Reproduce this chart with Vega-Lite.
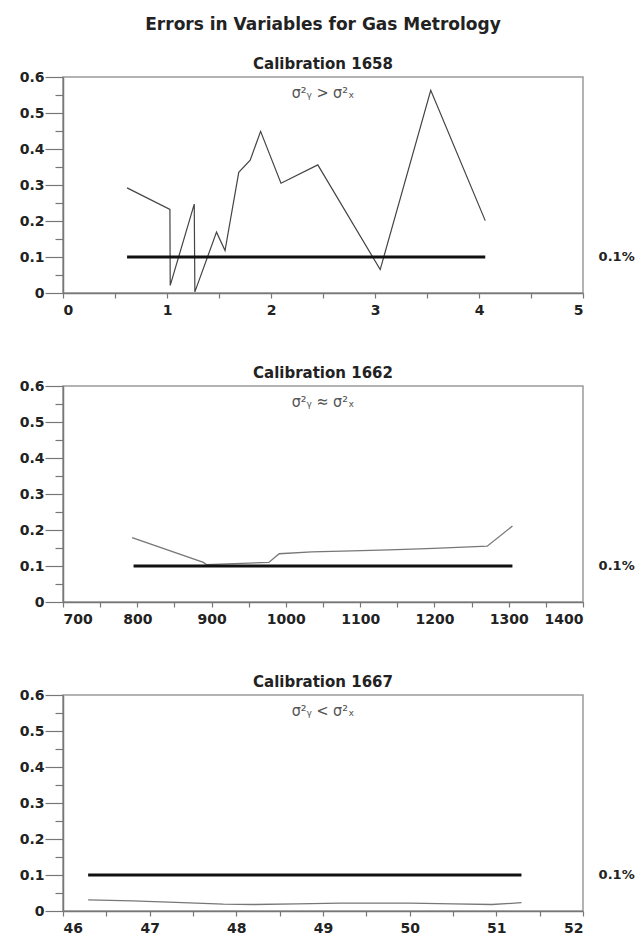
{
  "$schema": "https://vega.github.io/schema/vega-lite/v6.json",
  "background": "white",
  "padding": {"left": 18, "top": 16, "right": 5, "bottom": 5},
  "title": {"text": "Errors in Variables for Gas Metrology", "fontSize": 17, "fontWeight": "bold", "font": "DejaVu Sans", "color": "#222", "anchor": "middle", "offset": 22},
  "spacing": 47,
  "config": {
    "font": "DejaVu Sans",
    "view": {"stroke": "#9a9a9a", "strokeWidth": 1.5},
    "axis": {"grid": false, "title": null, "domainColor": "#777", "domainWidth": 1.5, "tickColor": "#777", "tickWidth": 1.2, "labelFontSize": 14, "labelFontWeight": "bold", "labelColor": "#222", "labelFont": "DejaVu Sans", "labelOverlap": false},
    "axisY": {"tickSize": {"condition": {"test": "round(datum.value*100) % 10 == 0", "value": 18}, "value": 8}, "labelPadding": 1,
      "labelExpr": "round(datum.value*100) % 10 == 0 ? (datum.value == 0 ? '0' : format(datum.value, '.1f')) : ''",
      "values": [0, 0.05, 0.1, 0.15, 0.2, 0.25, 0.3, 0.35, 0.4, 0.45, 0.5, 0.55, 0.6]},
    "title": {"fontSize": 15, "fontWeight": "bold", "color": "#222", "frame": "group", "offset": -2, "font": "DejaVu Sans"}
  },
  "vconcat": [
    {
      "width": 520, "height": 216,
      "title": "Calibration 1658",
      "encoding": {
        "x": {"field": "x", "type": "quantitative", "scale": {"domain": [0, 5], "nice": false, "zero": false},
          "axis": {"values": [0, 0.5, 1, 1.5, 2, 2.5, 3, 3.5, 4, 4.5, 5], "labelExpr": "datum.value % 1 == 0 ? format(datum.value, 'd') : ''", "tickSize": 5, "labelPadding": 5}},
        "y": {"field": "y", "type": "quantitative", "scale": {"domain": [0, 0.6], "nice": false},
          "axis": {"values": [0, 0.05, 0.1, 0.15, 0.2, 0.25, 0.3, 0.35, 0.4, 0.45, 0.5, 0.55, 0.6]}}
      },
      "layer": [
        {
          "data": {"values": [
            {"x": 0.616, "y": 0.292}, {"x": 1.028, "y": 0.232}, {"x": 1.031, "y": 0.021}, {"x": 1.262, "y": 0.247},
            {"x": 1.268, "y": 0.003}, {"x": 1.476, "y": 0.169}, {"x": 1.558, "y": 0.118}, {"x": 1.69, "y": 0.335},
            {"x": 1.8, "y": 0.369}, {"x": 1.9, "y": 0.449}, {"x": 2.096, "y": 0.305}, {"x": 2.45, "y": 0.356},
            {"x": 3.05, "y": 0.065}, {"x": 3.536, "y": 0.563}, {"x": 4.06, "y": 0.201}
          ]},
          "mark": {"type": "line", "color": "#444", "strokeWidth": 1.2}
        },
        {
          "data": {"values": [{"x": 0.616, "y": 0.1}, {"x": 4.06, "y": 0.1}]},
          "mark": {"type": "line", "color": "#111", "strokeWidth": 3}
        },
        {
          "data": {"values": [{"x": 5.15, "y": 0.1, "t": "0.1%"}]},
          "mark": {"type": "text", "align": "left", "baseline": "middle", "fontSize": 13, "fontWeight": "bold", "color": "#222"},
          "encoding": {"text": {"field": "t"}}
        },
        {
          "data": {"values": [{"x": 2.5, "y": 0.556, "t": "σ²ᵧ > σ²ₓ"}]},
          "mark": {"type": "text", "align": "center", "baseline": "middle", "fontSize": 16, "color": "#555", "font": "DejaVu Sans Condensed"},
          "encoding": {"text": {"field": "t"}}
        }
      ]
    },
    {
      "width": 520, "height": 216,
      "title": "Calibration 1662",
      "encoding": {
        "x": {"field": "x", "type": "quantitative", "scale": {"domain": [700, 1400], "nice": false, "zero": false},
          "axis": {"values": [700, 750, 800, 850, 900, 950, 1000, 1050, 1100, 1150, 1200, 1250, 1300, 1350, 1400], "labelExpr": "datum.value % 100 == 0 ? format(datum.value, 'd') : ''", "tickSize": 5, "labelPadding": 5}},
        "y": {"field": "y", "type": "quantitative", "scale": {"domain": [0, 0.6], "nice": false},
          "axis": {"values": [0, 0.05, 0.1, 0.15, 0.2, 0.25, 0.3, 0.35, 0.4, 0.45, 0.5, 0.55, 0.6]}}
      },
      "layer": [
        {
          "data": {"values": [
            {"x": 793, "y": 0.179}, {"x": 889, "y": 0.11}, {"x": 893, "y": 0.104}, {"x": 977, "y": 0.11},
            {"x": 991, "y": 0.134}, {"x": 1035, "y": 0.139}, {"x": 1089, "y": 0.142}, {"x": 1139, "y": 0.145},
            {"x": 1199, "y": 0.149}, {"x": 1271, "y": 0.155}, {"x": 1305, "y": 0.211}
          ]},
          "mark": {"type": "line", "color": "#777", "strokeWidth": 1.3}
        },
        {
          "data": {"values": [{"x": 795, "y": 0.1}, {"x": 1305, "y": 0.1}]},
          "mark": {"type": "line", "color": "#111", "strokeWidth": 3}
        },
        {
          "data": {"values": [{"x": 1421, "y": 0.1, "t": "0.1%"}]},
          "mark": {"type": "text", "align": "left", "baseline": "middle", "fontSize": 13, "fontWeight": "bold", "color": "#222"},
          "encoding": {"text": {"field": "t"}}
        },
        {
          "data": {"values": [{"x": 1050, "y": 0.556, "t": "σ²ᵧ ≈ σ²ₓ"}]},
          "mark": {"type": "text", "align": "center", "baseline": "middle", "fontSize": 16, "color": "#555", "font": "DejaVu Sans Condensed"},
          "encoding": {"text": {"field": "t"}}
        }
      ]
    },
    {
      "width": 520, "height": 216,
      "title": "Calibration 1667",
      "encoding": {
        "x": {"field": "x", "type": "quantitative", "scale": {"domain": [46, 52], "nice": false, "zero": false},
          "axis": {"values": [46, 46.5, 47, 47.5, 48, 48.5, 49, 49.5, 50, 50.5, 51, 51.5, 52], "labelExpr": "datum.value % 1 == 0 ? format(datum.value, 'd') : ''", "tickSize": 5, "labelPadding": 5}},
        "y": {"field": "y", "type": "quantitative", "scale": {"domain": [0, 0.6], "nice": false},
          "axis": {"values": [0, 0.05, 0.1, 0.15, 0.2, 0.25, 0.3, 0.35, 0.4, 0.45, 0.5, 0.55, 0.6]}}
      },
      "layer": [
        {
          "data": {"values": [
            {"x": 46.29, "y": 0.031}, {"x": 46.8, "y": 0.028}, {"x": 47.3, "y": 0.024}, {"x": 47.85, "y": 0.019},
            {"x": 48.2, "y": 0.018}, {"x": 48.7, "y": 0.02}, {"x": 49.2, "y": 0.022}, {"x": 49.6, "y": 0.022},
            {"x": 50.0, "y": 0.022}, {"x": 50.5, "y": 0.02}, {"x": 50.95, "y": 0.018}, {"x": 51.29, "y": 0.023}
          ]},
          "mark": {"type": "line", "color": "#777", "strokeWidth": 1.3}
        },
        {
          "data": {"values": [{"x": 46.29, "y": 0.1}, {"x": 51.29, "y": 0.1}]},
          "mark": {"type": "line", "color": "#111", "strokeWidth": 3}
        },
        {
          "data": {"values": [{"x": 52.18, "y": 0.1, "t": "0.1%"}]},
          "mark": {"type": "text", "align": "left", "baseline": "middle", "fontSize": 13, "fontWeight": "bold", "color": "#222"},
          "encoding": {"text": {"field": "t"}}
        },
        {
          "data": {"values": [{"x": 49, "y": 0.556, "t": "σ²ᵧ < σ²ₓ"}]},
          "mark": {"type": "text", "align": "center", "baseline": "middle", "fontSize": 16, "color": "#555", "font": "DejaVu Sans Condensed"},
          "encoding": {"text": {"field": "t"}}
        }
      ]
    }
  ]
}
